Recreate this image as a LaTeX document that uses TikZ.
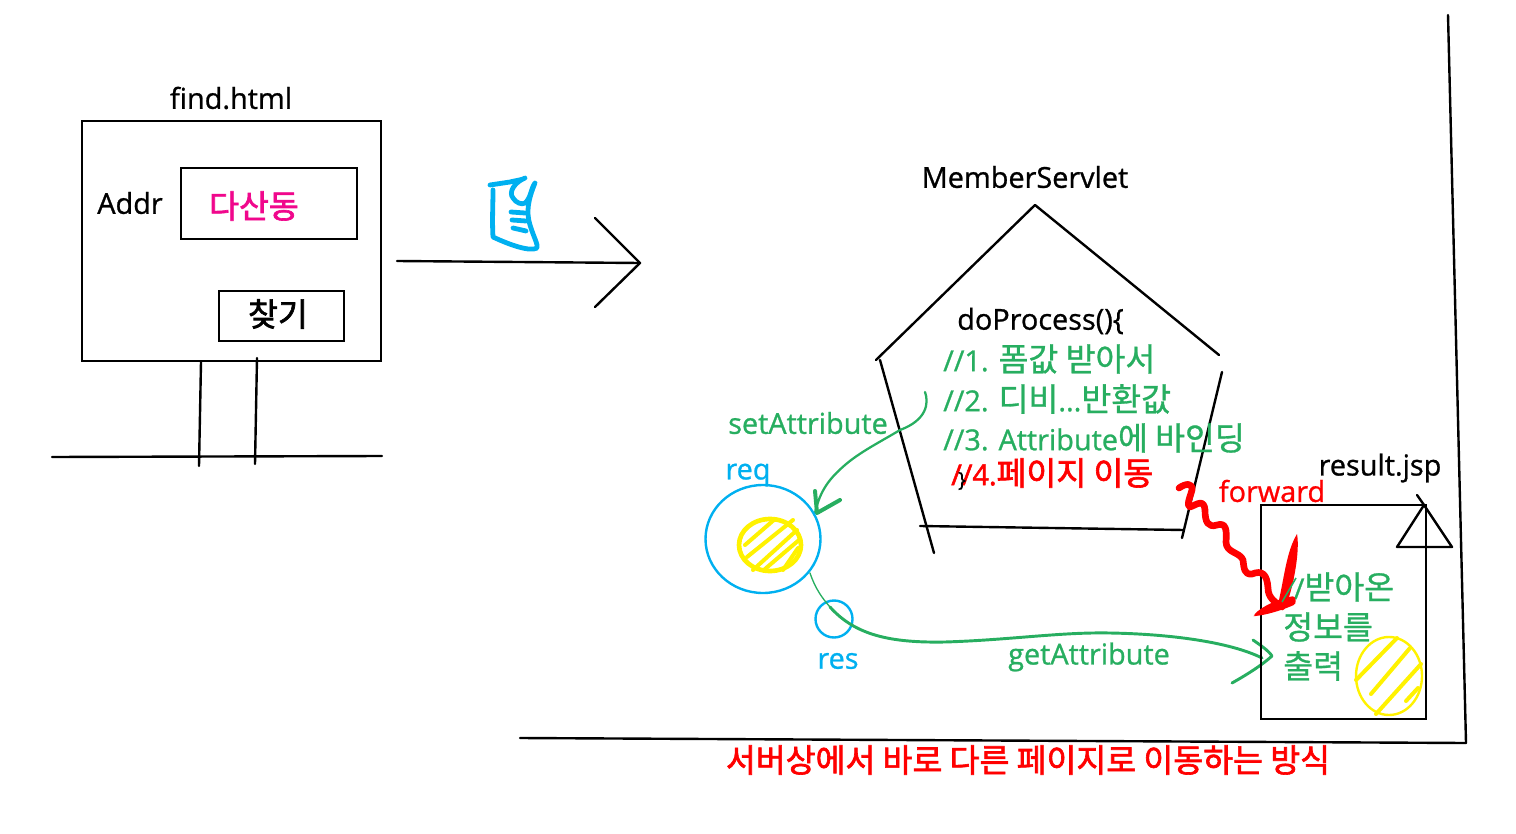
\documentclass[tikz,border=0pt]{standalone}
\usepackage{fontspec}
\setmainfont{Open Sans}[FakeBold=0.9,Scale=1.03]
\newfontfamily\kr{Noto Sans CJK KR}[FakeBold=0.9,Scale=1.16]
\newfontfamily\krb{Noto Sans CJK KR}[FakeBold=2.0,Scale=1.16]
\newfontfamily\latb{Open Sans}[FakeBold=2.0,Scale=1.03]
\definecolor{gr}{HTML}{27AE60}
\definecolor{cy}{HTML}{00B0F0}
\definecolor{pk}{HTML}{F0078C}
\definecolor{yl}{HTML}{FFF200}
\tikzset{
  ink/.style={draw=black,line width=1.8pt,line cap=round,line join=round},
  box/.style={draw=black,line width=1.8pt},
  txt/.style={inner sep=0pt,font=\fontsize{21}{25}\selectfont},
  ltxt/.style={txt,anchor=west},
  grn/.style={draw=gr,line cap=round,line join=round},
  cyn/.style={draw=cy,line cap=round,line join=round},
  ylw/.style={draw=yl,line cap=round,line join=round},
  redink/.style={draw=red,line cap=round,line join=round}
}
\begin{document}
\begin{tikzpicture}[x=0.75pt,y=-0.75pt]
\path[use as bounding box] (0,0) rectangle (1516,834);
% find.html
\node[txt] (find) at (231,98) {find.html};
\draw[box] (82,121) rectangle (381,361);
\node[txt] (addr) at (130,203) {Addr};
\draw[box] (181,168) rectangle (357,239);
\node[txt,text=pk] (dong) at (254,206) {\krb 다산동};
\draw[box] (219,291) rectangle (344,341);
\node[txt] (findbtn) at (278,314) {\krb 찾기};
\draw[ink] (201,362) -- (199,466);
\draw[ink] (257,358) -- (255,464);
\draw[ink] (52,457) -- (382,456);
% arrow
\draw[ink] (397,261) -- (640,263);
\draw[ink] (595,218) -- (640,263) -- (595,307);
% doc icon
\draw[cyn,line width=3.6pt] (490,185) -- (510,182) .. controls (518,180) and (522,180) .. (525,178) .. controls (515,182) and (508,192) .. (513,198) .. controls (516,203) and (522,205) .. (525,203) .. controls (531,198) and (531,188) .. (535,183) .. controls (528,200) and (526,212) .. (530,225) .. controls (534,238) and (538,244) .. (537,248) .. controls (530,252) and (510,245) .. (493,237) .. controls (492,220) and (493,205) .. (493,190);
\draw[cyn,line width=3.6pt] (511,212) -- (525,213) (512,220) -- (526,221) (513,228) -- (526,231);
% servlet
\node[txt] (ms) at (1025,177) {MemberServlet};
\draw[ink] (876,360) -- (1035,205) -- (1219,355);
\draw[ink] (1222,372) -- (1182,538);
\draw[ink] (920,526) -- (1184,530);
\draw[ink] (880,360) -- (934,553);
\node[txt,anchor=west] (dop) at (957,321) {doProcess()\{};
\node[ltxt,text=gr] (l1) at (943,359) {//1. {\kr 폼값 받아서}};
\node[ltxt,text=gr] (l2) at (943,399) {//2. {\kr 디비}...{\kr 반환값}};
\node[ltxt,text=gr] (l3) at (943,438) {//3. Attribute{\kr 에 바인딩}};
\node[ltxt,text=red] (l4) at (951,473) {{\latb //4.}{\krb 페이지 이동}};
\node[txt,font=\fontsize{15}{18}\selectfont] (brace) at (962,481) {\}};
% setAttribute
\node[txt,text=gr] (seta) at (808,423) {setAttribute};
\draw[grn,line width=1.7pt] (925,392) .. controls (929,403) and (927,420) .. (900,430) .. controls (880,442) and (860,452) .. (845,465) .. controls (830,478) and (820,490) .. (815,513);
\draw[grn,line width=3pt] (815,491) -- (817,513) -- (840,500);
% req
\node[txt,text=cy] (req) at (748,475) {req};
\draw[cyn,line width=1.8pt] (763,539) circle [x radius=57.5,y radius=54];
\draw[ylw,line width=3.5pt] (770,545) circle [x radius=31,y radius=26];
\draw[ylw,line width=3pt] (745,545) -- (775,519) (747,557) -- (793,520) (753,570) -- (797,530) (765,569) -- (799,540) (783,570) -- (798,548);
% res
\draw[cyn,line width=1.8pt] (834,619) circle [radius=18.5];
\node[txt,text=cy] (res) at (838,661) {res};
% getAttribute
\draw[grn,line width=1pt] (810,573) .. controls (815,588) and (822,598) .. (830,607);
\draw[grn,line width=2.2pt] (830,607) .. controls (855,635) and (890,643) .. (945,642) .. controls (1010,640) and (1060,632) .. (1110,633) .. controls (1170,634) and (1230,642) .. (1262,658);
\draw[grn,line width=2.2pt] (1253,640) .. controls (1260,645) and (1268,650) .. (1272,656) .. controls (1262,665) and (1248,674) .. (1232,683);
\node[txt,text=gr] (geta) at (1089,657) {getAttribute};
% result
\node[txt] (rj) at (1380,468) {result.jsp};
\draw[box] (1261,505) rectangle (1426,719);
\draw[ink] (1417,495) -- (1424,505) -- (1452,547) -- (1397,547) -- (1424,505);
\node[txt,text=red] (fw) at (1272,491) {forward};
\node[ltxt,text=gr] (r1) at (1283,587) {//{\kr 받아온}};
\node[ltxt,text=gr] (r2) at (1283,627) {\kr 정보를};
\node[ltxt,text=gr] (r3) at (1283,666) {\kr 출력};
\draw[ylw,line width=1.8pt] (1389,676) circle [x radius=33,y radius=39];
\draw[ylw,line width=3pt] (1356,680) -- (1397,638) (1371,694) -- (1410,648) (1376,714) -- (1421,664) (1406,701) -- (1418,688);
% squiggle
\draw[redink,line width=5pt] (1179,488) .. controls (1186,483) and (1193,483) .. (1192,490) .. controls (1190,497) and (1186,506) .. (1190,507) .. controls (1196,505) and (1204,498) .. (1205,510) .. controls (1205,522) and (1208,528) .. (1217,525) .. controls (1226,522) and (1227,530) .. (1226,542) .. controls (1226,553) and (1240,552) .. (1243,560) .. controls (1244,568) and (1244,575) .. (1252,574) .. controls (1262,570) and (1267,574) .. (1268,588) .. controls (1268,598) and (1275,602) .. (1282,607);
% spike
\fill[red] (1297,534) .. controls (1300,550) and (1294,585) .. (1286,606) -- (1278,604) .. controls (1284,580) and (1286,552) .. (1297,534) -- cycle;
\fill[red,rounded corners=2pt] (1253,616) .. controls (1262,606) and (1280,598) .. (1295,596) -- (1296,604) .. controls (1285,609) and (1270,614) .. (1256,616) -- cycle;
\draw[gr,line width=1.2pt] (1282,602) -- (1296,578);
% bottom
\draw[ink] (520,738) -- (1466,743);
\draw[ink] (1448,15) -- (1466,743);
\node[txt,text=red] (cap) at (1028,760) {\krb 서버상에서 바로 다른 페이지로 이동하는 방식};
\end{tikzpicture}
\end{document}
